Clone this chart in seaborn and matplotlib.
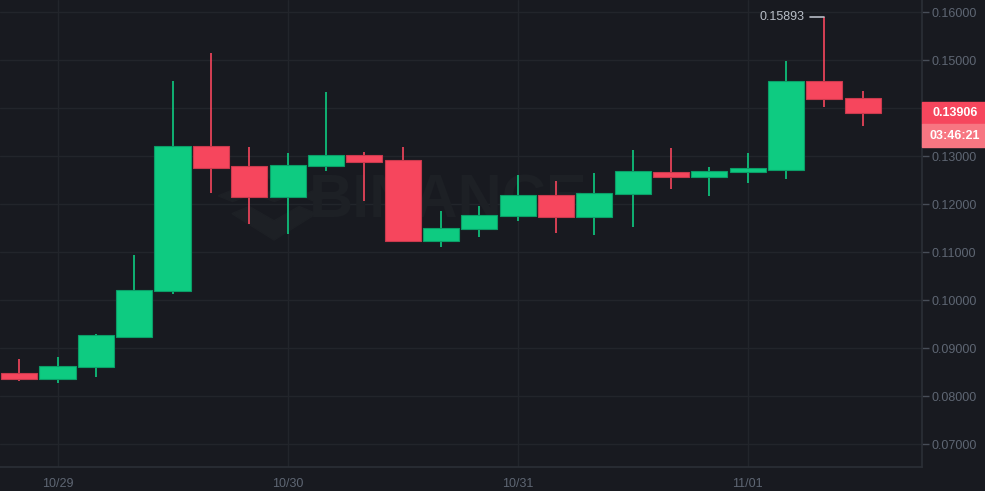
import matplotlib
matplotlib.use("Agg")
import matplotlib.pyplot as plt
from matplotlib.patches import Rectangle, Polygon
import numpy as np
import seaborn as sns

# ---- data (4h candles, 10/28 20:00 -> 11/01 12:00) ----
opens  = [0.08473, 0.08361, 0.08597, 0.09236, 0.10194, 0.13215, 0.12785, 0.12152,
          0.12798, 0.13021, 0.12910, 0.11235, 0.11473, 0.11744, 0.12187, 0.11735,
          0.12202, 0.12673, 0.12562, 0.12660, 0.12715, 0.14556, 0.14208]
closes = [0.08361, 0.08618, 0.09264, 0.10215, 0.13215, 0.12757, 0.12152, 0.12819,
          0.13021, 0.12881, 0.11235, 0.11500, 0.11771, 0.12187, 0.11735, 0.12223,
          0.12681, 0.12562, 0.12681, 0.12744, 0.14556, 0.14188, 0.13906]
highs  = [0.08771, 0.08806, 0.09285, 0.10938, 0.14563, 0.15140, 0.13187, 0.13056,
          0.14333, 0.13083, 0.13187, 0.11854, 0.11965, 0.12604, 0.12479, 0.12646,
          0.13125, 0.13167, 0.12771, 0.13062, 0.14979, 0.15893, 0.14354]
lows   = [0.08319, 0.08264, 0.08396, 0.09230, 0.10125, 0.12223, 0.11583, 0.11369,
          0.12694, 0.12069, 0.11202, 0.11110, 0.11319, 0.11640, 0.11390, 0.11360,
          0.11527, 0.12319, 0.12173, 0.12431, 0.12527, 0.14027, 0.13619]
tick_positions = [1, 7, 13, 19]
tick_labels = ["10/29", "10/30", "10/31", "11/01"]
y_ticks = [0.07, 0.08, 0.09, 0.10, 0.11, 0.12, 0.13, 0.15, 0.16]   # 0.14 hidden by price box
grid_levels = [0.07, 0.08, 0.09, 0.10, 0.11, 0.12, 0.13, 0.14, 0.15, 0.16]
last_price_label = "0.13906"
countdown_label = "03:46:21"
high_label = "0.15893"

BG = "#181a20"
GRID = "#22252b"
TXT = "#5e6673"
GREEN = "#0ecb81"
RED = "#f6465d"
GREEN_EDGE = "#0b9e68"
RED_EDGE = "#c93a4d"
WM = "#1d2025"

sns.set_theme(style="dark", rc={
    "axes.facecolor": BG, "figure.facecolor": BG,
    "axes.edgecolor": "#2b2f36", "grid.color": GRID,
    "xtick.color": TXT, "ytick.color": TXT, "text.color": TXT,
})
plt.rcParams["font.family"] = ["Liberation Sans", "DejaVu Sans"]

fig = plt.figure(figsize=(9.85, 4.91), dpi=100)
ax = fig.add_axes([0.0, 24 / 491, 922 / 985, 467 / 491])

x = np.arange(len(opens))
o = np.array(opens); c = np.array(closes); h = np.array(highs); l = np.array(lows)
up = c >= o
colors = np.where(up, GREEN, RED)
edges = np.where(up, GREEN_EDGE, RED_EDGE)

# grid
for yt in grid_levels:
    ax.axhline(yt, color=GRID, lw=1.0, zorder=0)
for xt in tick_positions:
    ax.axvline(xt, color=GRID, lw=1.0, zorder=0)

# watermark
ax.text(11.2, 0.1205, "BINANCE", fontsize=44, fontweight="bold", color=WM,
        ha="center", va="center", zorder=0.5, family=["Liberation Sans", "DejaVu Sans"])
def diamond(cx, cy, rx, ry):
    return Polygon([(cx - rx, cy), (cx, cy + ry), (cx + rx, cy), (cx, cy - ry)],
                   closed=True, color=WM, zorder=0.5)
for cx, cy, rx, ry in [(5.57, 0.1217, 0.38, 0.0012), (6.65, 0.1217, 0.38, 0.0012),
                       (7.72, 0.1217, 0.38, 0.0012), (6.65, 0.1262, 0.38, 0.0012)]:
    ax.add_patch(diamond(cx, cy, rx, ry))
ax.add_patch(Polygon([(5.55, 0.1180), (6.65, 0.1125), (7.75, 0.1180), (7.30, 0.1195),
                      (6.65, 0.1165), (6.00, 0.1195)], closed=True, color=WM, zorder=0.5))

# candles
ax.vlines(x, l, h, colors=colors, lw=1.2, zorder=2)
ax.bar(x, np.maximum(np.abs(c - o), 0.0002), bottom=np.minimum(o, c), width=0.94,
       color=colors, edgecolor=edges, linewidth=0.8, zorder=3)

ax.set_xlim(-0.5, 23.55)
ax.set_ylim(0.06521, 0.1625)
ax.set_xticks(tick_positions)
ax.set_xticklabels(tick_labels)
ax.yaxis.tick_right()
ax.set_yticks(y_ticks)
ax.set_yticklabels([f"{v:.5f}" for v in y_ticks])
ax.tick_params(axis="both", which="both", length=5, width=1, color="#474d57",
               labelsize=9, labelcolor=TXT, pad=2)
ax.tick_params(axis="x", pad=3)
for s in ["top", "left"]:
    ax.spines[s].set_visible(False)
for s in ["right", "bottom"]:
    ax.spines[s].set_color("#2b2f36")
    ax.spines[s].set_linewidth(1.2)
ax.grid(False)

# high annotation
hi_idx = int(np.argmax(h))
ax.plot([hi_idx - 0.38, hi_idx], [h[hi_idx], h[hi_idx]], color="#b7bdc6", lw=1.2, zorder=4)
ax.text(hi_idx - 0.52, h[hi_idx], high_label, color="#b7bdc6", fontsize=9,
        ha="right", va="center", zorder=4)

# last price box (figure coordinates)
def fy(py):
    return 1 - py / 491
fig.patches.append(Rectangle((922 / 985, fy(124.3)), 63 / 985, 22.6 / 491,
                             transform=fig.transFigure, color="#f6465d", zorder=5))
fig.patches.append(Rectangle((922 / 985, fy(147)), 63 / 985, 22.7 / 491,
                             transform=fig.transFigure, color="#f77682", zorder=5))
fig.text(955 / 985, fy(112.5), last_price_label, color="white", fontsize=9,
         fontweight="bold", ha="center", va="center", zorder=6)
fig.text(955 / 985, fy(136), countdown_label, color="white", fontsize=9,
         fontweight="bold", ha="center", va="center", zorder=6)

fig.savefig("out.png", dpi=100, facecolor=BG)
